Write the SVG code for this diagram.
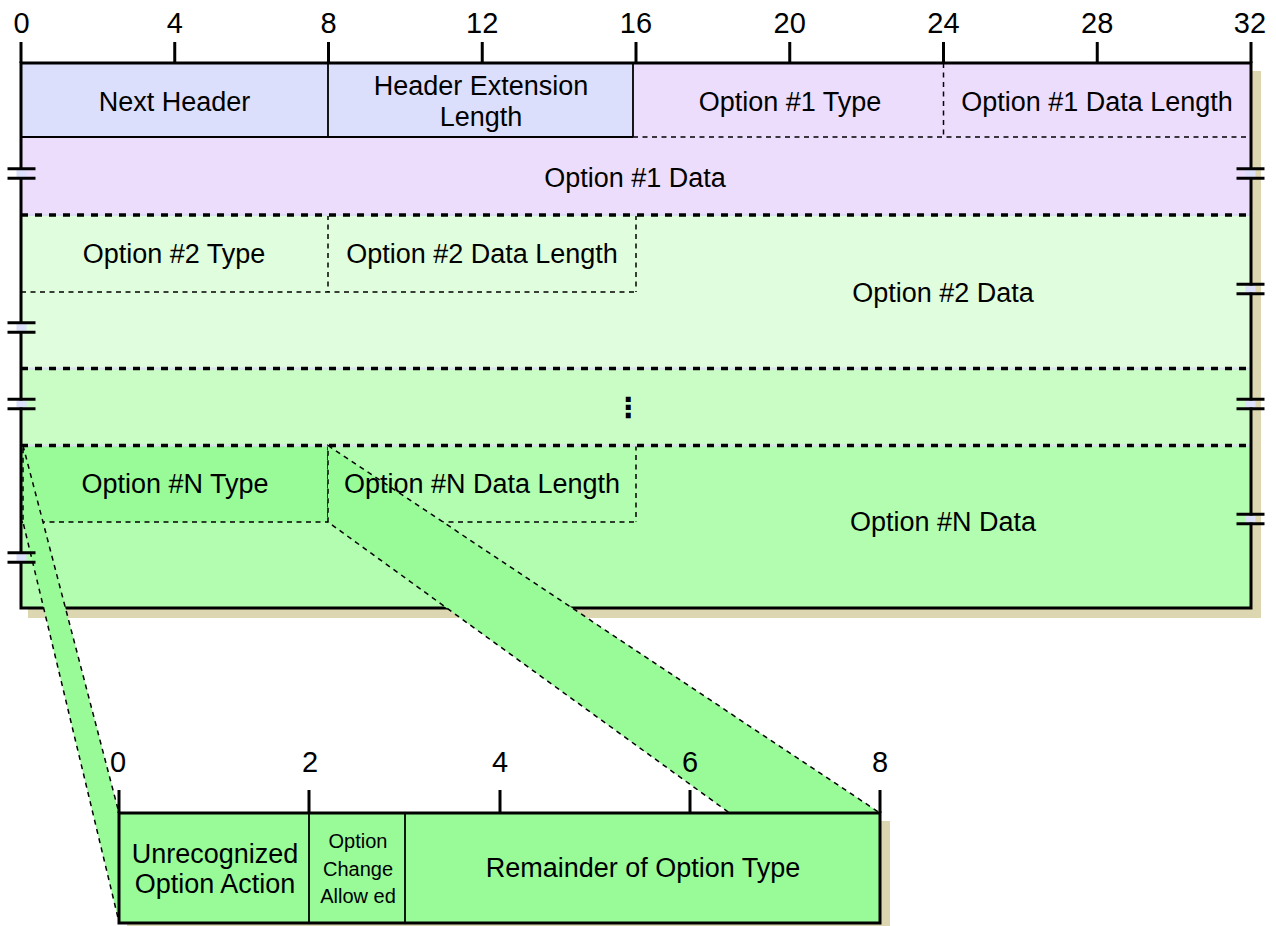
<svg xmlns="http://www.w3.org/2000/svg" width="1276" height="926" viewBox="0 0 1276 926">
<style>
.lbl{font-family:"Liberation Sans",Arial,sans-serif;font-size:27px;text-anchor:middle;fill:#000}
.num{font-size:29px}
.sm{font-size:20px}
.thin{stroke:#000;stroke-width:1.8;fill:none}
.dash{stroke:#000;stroke-width:1.5;stroke-dasharray:5 4.5;fill:none}
.dot{stroke:#000;stroke-width:3.3;stroke-dasharray:7 7;fill:none}
.dotbg{stroke:#DCDCF2;stroke-width:2;fill:none}
.tick{stroke:#000;stroke-width:3;fill:none}
.border{stroke:#000;stroke-width:3;fill:none}
.shadow{fill:#DCD7B0}
.band{fill:#98FB98;stroke:#000;stroke-width:1.5;stroke-dasharray:5 4.5}
.brk{fill:#DDE0FB}
</style>
<defs>
<g id="brk">
<rect class="brk" x="-5" y="-3.5" width="10" height="7"/>
<line class="tick" x1="-14" y1="-4.75" x2="14" y2="-4.75"/>
<line class="tick" x1="-14" y1="4.75" x2="14" y2="4.75"/>
</g>
</defs>

<rect class="shadow" x="28" y="71" width="1233" height="547"/>

<g id="row-option1">
<rect x="21" y="63" width="1230" height="152" fill="#EDDDFC"/>
</g>
<g id="next-header">
<rect x="21" y="63" width="307" height="74" fill="#DCDFFB"/>
<text class="lbl" x="174.5" y="110.5">Next Header</text>
</g>
<g id="header-ext-length">
<rect x="328" y="63" width="305" height="74" fill="#DCDFFB"/>
<line class="thin" x1="21" y1="137" x2="633" y2="137"/>
<line class="thin" x1="328" y1="63" x2="328" y2="137"/>
<line class="thin" x1="633" y1="63" x2="633" y2="137"/>
<text class="lbl" x="481" y="95">Header Extension</text>
<text class="lbl" x="481" y="125.5">Length</text>
</g>
<g id="opt1-type">
<line class="dash" x1="943.5" y1="63" x2="943.5" y2="137"/>
<line class="dash" x1="633" y1="137" x2="1251" y2="137"/>
<text class="lbl" x="790" y="111">Option #1 Type</text>
</g>
<g id="opt1-len">
<text class="lbl" x="1097" y="111">Option #1 Data Length</text>
</g>
<g id="opt1-data">
<text class="lbl" x="635" y="187">Option #1 Data</text>
</g>

<g id="row-option2">
<rect x="21" y="215" width="1230" height="153.5" fill="#E0FDDD"/>
<line class="dash" x1="21" y1="292" x2="636" y2="292"/>
<line class="dash" x1="328" y1="215" x2="328" y2="292"/>
<line class="dash" x1="636" y1="215" x2="636" y2="292"/>
<text class="lbl" x="174" y="263">Option #2 Type</text>
<text class="lbl" x="482" y="263">Option #2 Data Length</text>
<text class="lbl" x="943" y="301.5">Option #2 Data</text>
</g>

<g id="row-ellipsis">
<rect x="21" y="368.5" width="1230" height="77" fill="#C9FDC5"/>
<text x="628" y="417" style="font-family:'DejaVu Sans',sans-serif;font-size:28px;text-anchor:middle;font-weight:bold">⋮</text>
</g>

<g id="row-optionN">
<rect x="21" y="445.5" width="1230" height="162.5" fill="#B3FDB0"/>
<rect x="21" y="445.5" width="307" height="76.5" fill="#98FB98"/>
<line class="dash" x1="21" y1="522" x2="636" y2="522"/>
<line class="dash" x1="328" y1="445.5" x2="328" y2="522"/>
<line class="dash" x1="636" y1="445.5" x2="636" y2="522"/>
</g>

<g id="row-lines">
<line class="dotbg" x1="21" y1="215" x2="1251" y2="215"/>
<line class="dot" x1="21" y1="215" x2="1251" y2="215"/>
<line class="dotbg" x1="21" y1="368.5" x2="1251" y2="368.5"/>
<line class="dot" x1="21" y1="368.5" x2="1251" y2="368.5"/>
<line class="dotbg" x1="21" y1="445.5" x2="1251" y2="445.5"/>
<line class="dot" x1="21" y1="445.5" x2="1251" y2="445.5"/>
</g>

<g id="main-border">
<rect class="border" x="21" y="63" width="1230" height="545"/>
</g>

<g id="scale-top">
<line class="tick" x1="21" y1="42" x2="21" y2="63"/>
<line class="tick" x1="174.75" y1="42" x2="174.75" y2="63"/>
<line class="tick" x1="328.5" y1="42" x2="328.5" y2="63"/>
<line class="tick" x1="482.25" y1="42" x2="482.25" y2="63"/>
<line class="tick" x1="636" y1="42" x2="636" y2="63"/>
<line class="tick" x1="789.75" y1="42" x2="789.75" y2="63"/>
<line class="tick" x1="943.5" y1="42" x2="943.5" y2="63"/>
<line class="tick" x1="1097.25" y1="42" x2="1097.25" y2="63"/>
<line class="tick" x1="1251" y1="42" x2="1251" y2="63"/>
<text class="lbl num" x="21.5" y="33">0</text>
<text class="lbl num" x="174.75" y="33">4</text>
<text class="lbl num" x="328.5" y="33">8</text>
<text class="lbl num" x="482.25" y="33">12</text>
<text class="lbl num" x="636" y="33">16</text>
<text class="lbl num" x="789.75" y="33">20</text>
<text class="lbl num" x="943.5" y="33">24</text>
<text class="lbl num" x="1097.25" y="33">28</text>
<text class="lbl num" x="1250" y="33">32</text>
</g>

<g id="connectors">
<polygon class="band" points="23,445.5 119,813 119,922 23,522"/>
<polygon class="band" points="328,445.5 880,813 880,922 328,522"/>
</g>

<g id="breaks">
<use href="#brk" x="21.5" y="173.5"/>
<use href="#brk" x="21.5" y="327.5"/>
<use href="#brk" x="21.5" y="404"/>
<use href="#brk" x="21.5" y="557.5"/>
<use href="#brk" x="1250.5" y="173.5"/>
<use href="#brk" x="1250.5" y="289"/>
<use href="#brk" x="1250.5" y="404"/>
<use href="#brk" x="1250.5" y="519"/>
</g>

<g id="optN-labels">
<text class="lbl" x="175" y="493">Option #N Type</text>
<text class="lbl" x="482" y="493">Option #N Data Length</text>
<text class="lbl" x="943" y="530.5">Option #N Data</text>
</g>

<g id="option-type-detail">
<rect class="shadow" x="127" y="821" width="763" height="110"/>
<rect x="119" y="813" width="761" height="110" fill="#98FB98"/>
<line class="thin" x1="309" y1="813" x2="309" y2="923"/>
<line class="thin" x1="405" y1="813" x2="405" y2="923"/>
<rect class="border" x="119" y="813" width="761" height="110"/>
<line class="tick" x1="119" y1="790" x2="119" y2="813"/>
<line class="tick" x1="309" y1="790" x2="309" y2="813"/>
<line class="tick" x1="500" y1="790" x2="500" y2="813"/>
<line class="tick" x1="690" y1="790" x2="690" y2="813"/>
<line class="tick" x1="880" y1="790" x2="880" y2="813"/>
<text class="lbl num" x="118" y="772">0</text>
<text class="lbl num" x="310" y="772">2</text>
<text class="lbl num" x="500" y="772">4</text>
<text class="lbl num" x="690" y="772">6</text>
<text class="lbl num" x="880" y="772">8</text>
</g>
<g id="unrecognized-action">
<text class="lbl" x="215" y="862.5">Unrecognized</text>
<text class="lbl" x="215" y="892.5">Option Action</text>
</g>
<g id="change-allowed">
<text class="lbl sm" x="358" y="848">Option</text>
<text class="lbl sm" x="358" y="875.5">Change</text>
<text class="lbl sm" x="358" y="902.5">Allow ed</text>
</g>
<g id="remainder">
<text class="lbl" x="643" y="876.5">Remainder of Option Type</text>
</g>
</svg>
